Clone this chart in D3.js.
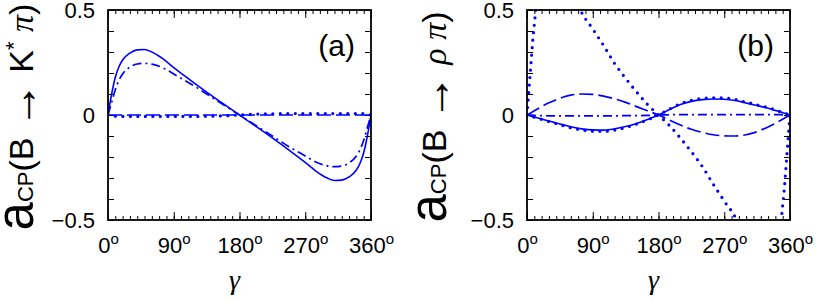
<!DOCTYPE html>
<html>
<head>
<meta charset="utf-8">
<script src="https://cdn.jsdelivr.net/npm/d3@7"></script>
<style>
  body { margin: 0; background: #fff; }
  svg { display: block; font-family: "Liberation Sans", Arial, sans-serif; }
</style>
</head>
<body>
<svg id="chart"></svg>
<script>
// gamma grid (degrees) shared by most curves
var gamma = [0, 5, 10, 15, 20, 30, 40, 50, 60, 75, 90, 105, 120, 135, 150, 165, 180,
             195, 210, 225, 240, 255, 270, 285, 300, 310, 320, 330, 340, 345, 350, 355, 360];

// panel (a): B -> K* pi
var kSolid   = [0, 0.10, 0.18, 0.23, 0.262, 0.295, 0.31, 0.312, 0.300, 0.268, 0.226, 0.186, 0.147, 0.109, 0.072, 0.036, 0,
                -0.036, -0.072, -0.109, -0.147, -0.186, -0.226, -0.268, -0.300, -0.312, -0.31, -0.295, -0.262, -0.23, -0.18, -0.10, 0];
var kDashDot = [0, 0.06, 0.12, 0.165, 0.195, 0.228, 0.243, 0.246, 0.242, 0.225, 0.195, 0.165, 0.134, 0.100, 0.067, 0.033, 0,
                -0.033, -0.067, -0.100, -0.134, -0.165, -0.195, -0.225, -0.242, -0.246, -0.243, -0.228, -0.195, -0.165, -0.12, -0.06, 0];
var kDashed  = [0, 0, 0, 0, 0, 0, 0, 0, 0, 0, 0, 0, 0, 0, 0, 0, 0,
                0, 0, 0, 0, 0, 0, 0, 0, 0, 0, 0, 0, 0, 0, 0, 0];
var kDotted  = [0, -0.004, -0.006, -0.007, -0.007, -0.007, -0.007, -0.007, -0.007, -0.007, -0.007, -0.007, -0.007, -0.006, -0.005, -0.003, 0,
                0.003, 0.005, 0.006, 0.007, 0.007, 0.007, 0.007, 0.007, 0.007, 0.007, 0.007, 0.007, 0.007, 0.006, 0.004, 0];

// panel (b): B -> rho pi
var rSolid   = [0, -0.005, -0.01, -0.014, -0.019, -0.029, -0.038, -0.047, -0.056, -0.066, -0.071, -0.072, -0.066, -0.055, -0.040, -0.021, 0,
                0.026, 0.05, 0.065, 0.073, 0.076, 0.075, 0.069, 0.057, 0.049, 0.041, 0.032, 0.022, 0.017, 0.011, 0.006, 0];
var rDotted  = [0, -0.005, -0.011, -0.015, -0.021, -0.031, -0.041, -0.051, -0.061, -0.071, -0.077, -0.078, -0.072, -0.060, -0.043, -0.023, 0,
                0.028, 0.054, 0.070, 0.079, 0.082, 0.081, 0.074, 0.061, 0.053, 0.044, 0.035, 0.024, 0.018, 0.012, 0.006, 0];
var rDashed  = [0, 0.01, 0.02, 0.03, 0.04, 0.058, 0.073, 0.086, 0.095, 0.1, 0.098, 0.09, 0.077, 0.06, 0.04, 0.02, 0,
                -0.024, -0.048, -0.068, -0.083, -0.094, -0.099, -0.1, -0.094, -0.085, -0.072, -0.057, -0.04, -0.03, -0.02, -0.01, 0];
var rDashDot = [0, -0.001, -0.002, -0.003, -0.003, -0.004, -0.004, -0.004, -0.004, -0.004, -0.004, -0.004, -0.004, -0.003, -0.003, -0.002, 0,
                0.001, 0.002, 0.002, 0.002, 0.002, 0.002, 0.002, 0.002, 0.002, 0.002, 0.002, 0.002, 0.002, 0.001, 0.001, 0];

// the big dotted curve in (b) runs off the frame, so it has its own grid
var gammaWide = [0, 2, 4, 6, 8, 10, 12, 15, 20, 30, 45, 60, 72, 90, 105, 120, 135, 150, 165, 180,
                 195, 210, 225, 240, 255, 270, 288, 300, 315, 330, 340, 345, 348, 350, 352, 354, 356, 358, 360];
var rWide = [0, 0.09, 0.18, 0.27, 0.36, 0.43, 0.5, 0.6, 0.72, 0.84, 0.8, 0.64, 0.51, 0.41, 0.33, 0.245, 0.175, 0.11, 0.05, 0,
             -0.05, -0.11, -0.175, -0.245, -0.33, -0.41, -0.51, -0.64, -0.8, -0.84, -0.72, -0.6, -0.5, -0.43, -0.36, -0.27, -0.18, -0.09, 0];

var xTicks = [0, 90, 180, 270, 360];
var yTicks = [-0.5, 0, 0.5];

var svgWidth = 817, svgHeight = 301;
var plotTop = 10, plotBottom = 220;
var blue = "#0000ff";

var svg = d3.select('#chart')
  .attr('width', svgWidth)
  .attr('height', svgHeight);

var y = d3.scaleLinear().domain([-0.5, 0.5]).range([plotBottom, plotTop]);

var styles = {
  solid:   { w: 1.6, dash: null, cap: "butt" },
  dashed:  { w: 1.7, dash: "14,5", cap: "butt" },
  dashdot: { w: 1.7, dash: "9,4,2,4", cap: "butt" },
  dotted:  { w: 3.2, dash: "0,7.5", cap: "round" }
};

function drawPanel(p) {
  var x = d3.scaleLinear().domain([0, 360]).range([p.left, p.right]);
  var g = svg.append('g');

  g.append('clipPath').attr('id', 'clip' + p.id)
    .append('rect')
    .attr('x', p.left).attr('y', plotTop)
    .attr('width', p.right - p.left).attr('height', plotBottom - plotTop);

  // ticks, all pointing inward
  var minorX = d3.range(0, 361, 10);
  var minorY = d3.range(-5, 6).map(function(d) { return d / 10; });

  g.append('g').attr('transform', 'translate(0,' + plotBottom + ')')
    .call(d3.axisBottom(x).tickValues(minorX).tickSize(-4).tickFormat(''));
  g.append('g').attr('transform', 'translate(0,' + plotTop + ')')
    .call(d3.axisTop(x).tickValues(minorX).tickSize(-4).tickFormat(''));
  g.append('g').attr('transform', 'translate(0,' + plotTop + ')')
    .call(d3.axisTop(x).tickValues(xTicks).tickSize(-8).tickFormat(''));

  var xb = g.append('g').attr('transform', 'translate(0,' + plotBottom + ')')
    .call(d3.axisBottom(x).tickValues(xTicks).tickSize(-8).tickFormat(''));
  xb.selectAll('.tick text').each(function(d) {
    var t = d3.select(this).attr('y', 33).attr('dy', null).attr('fill', '#000')
      .style('font-size', '22px');
    t.append('tspan').text(d);
    t.append('tspan').text('o').style('font-size', '15px').attr('dy', -9);
  });

  var yl = g.append('g').attr('transform', 'translate(' + p.left + ',0)')
    .call(d3.axisLeft(y).tickValues(minorY).tickSize(-6).tickPadding(13)
      .tickFormat(function(d) {
        var k = Math.round(d * 10);
        if (k === 5) return '0.5';
        if (k === 0) return '0';
        if (k === -5) return '\u22120.5';
        return '';
      }));
  yl.selectAll('text').attr('fill', '#000').style('font-size', '22px');

  g.append('g').attr('transform', 'translate(' + p.right + ',0)')
    .call(d3.axisRight(y).tickValues(minorY).tickSize(-6).tickFormat(''));

  g.selectAll('.domain').remove();
  g.selectAll('.tick line').attr('stroke', '#000').attr('stroke-width', 1);
  g.selectAll('g').attr('font-family', null);

  // curves
  var curves = g.append('g').attr('clip-path', 'url(#clip' + p.id + ')');
  p.series.forEach(function(s) {
    var st = styles[s.style];
    var line = d3.line()
      .x(function(d, i) { return x(s.xs[i]); })
      .y(function(d) { return y(d); })
      .curve(d3.curveMonotoneX);
    curves.append('path')
      .datum(s.values)
      .attr('d', line)
      .attr('fill', 'none')
      .attr('stroke', blue)
      .attr('stroke-width', st.w)
      .attr('stroke-dasharray', st.dash)
      .attr('stroke-linecap', st.cap);
  });

  // frame
  g.append('rect')
    .attr('x', p.left).attr('y', plotTop)
    .attr('width', p.right - p.left).attr('height', plotBottom - plotTop)
    .attr('fill', 'none').attr('stroke', '#000').attr('stroke-width', 1.8);

  // panel tag
  g.append('text')
    .attr('x', p.right - 16).attr('y', 56)
    .attr('text-anchor', 'end').attr('font-size', 30)
    .text(p.tag);

  // x label
  g.append('text')
    .attr('x', (p.left + p.right) / 2 - 5).attr('y', 289)
    .attr('text-anchor', 'middle')
    .attr('font-family', '"Liberation Serif", serif')
    .attr('font-style', 'italic').attr('font-size', 28)
    .text('\u03b3');

  // y label
  var yt = g.append('text')
    .attr('transform', 'translate(' + p.labelX + ',117) rotate(-90)')
    .attr('text-anchor', 'middle');
  yt.append('tspan').text('a').attr('font-size', 51);
  yt.append('tspan').text('CP').attr('font-size', 22);
  yt.append('tspan').text('(B ').attr('font-size', 34);
  yt.append('tspan').text('\u2192').attr('font-size', 46).attr('dy', 4);
  yt.append('tspan').text(' ').attr('font-size', 34).attr('dy', -4);
  if (p.star) {
    yt.append('tspan').text('K').attr('font-size', 34);
    yt.append('tspan').text('*').attr('font-size', 22).attr('dy', -12);
    yt.append('tspan').text('\u00a0').attr('font-size', 34).attr('dy', 12);
  } else {
    yt.append('tspan').text('\u03c1\u00a0').attr('font-size', 34)
      .attr('font-family', '"Liberation Serif", serif').attr('font-style', 'italic');
  }
  yt.append('tspan').text('\u03c0').attr('font-size', 34)
    .attr('font-family', '"Liberation Serif", serif').attr('font-style', 'italic');
  yt.append('tspan').text(')').attr('font-size', 34);
}

drawPanel({
  id: 'a', left: 108, right: 371, labelX: 33, tag: '(a)', star: true,
  series: [
    { xs: gamma, values: kSolid, style: 'solid' },
    { xs: gamma, values: kDashDot, style: 'dashdot' },
    { xs: gamma, values: kDashed, style: 'dashed' },
    { xs: gamma, values: kDotted, style: 'dotted' }
  ]
});

drawPanel({
  id: 'b', left: 527, right: 790, labelX: 446, tag: '(b)', star: false,
  series: [
    { xs: gamma, values: rSolid, style: 'solid' },
    { xs: gamma, values: rDashed, style: 'dashed' },
    { xs: gamma, values: rDashDot, style: 'dashdot' },
    { xs: gamma, values: rDotted, style: 'dotted' },
    { xs: gammaWide, values: rWide, style: 'dotted' }
  ]
});
</script>
</body>
</html>
